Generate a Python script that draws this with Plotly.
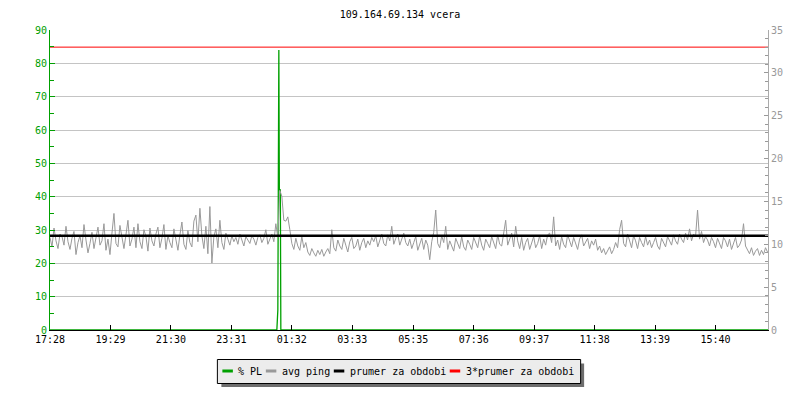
import plotly.graph_objects as go

# ---------------- data ----------------
title_text = "109.164.69.134 vcera"
start_label = "17:28"
x_tick_labels = ["17:28", "19:29", "21:30", "23:31", "01:32", "03:33", "05:35",
                 "07:36", "09:37", "11:38", "13:39", "15:40"]
range_minutes = 1437          # length of the period (minutes)
ping_step_min = 4             # sampling step of avg ping (minutes)

# avg ping [ms] (right axis)
avg_ping = [
    10.8, 9.7, 11.9, 10.4, 9.5, 11.2, 10.9, 9.9, 12.1, 10.3, 9.4, 10.7, 11.5, 8.8, 10.2, 11.0, 9.6, 12.3, 10.5, 9.0,
    10.1, 11.4, 9.5, 10.8, 12.0, 9.9, 10.4, 12.4, 9.3, 10.6, 8.8, 11.3, 13.6, 10.1, 9.7, 12.2, 10.8, 9.5, 11.1, 12.8,
    9.8, 10.6, 12.0, 9.6, 12.4, 10.3, 9.5, 11.7, 10.9, 9.2, 11.9, 10.4, 9.8, 11.2, 12.0, 9.6, 10.7, 12.3, 9.4, 11.0,
    10.2, 9.6, 11.8, 10.5, 9.3, 11.1, 12.6, 10.0, 9.4, 11.6, 10.2, 9.7, 12.7, 13.4, 10.3, 14.2, 11.0, 9.5, 12.1, 8.9,
    14.4, 7.8, 10.9, 11.8, 9.6, 12.8, 10.2, 9.4, 11.3, 10.6, 9.9, 11.0, 10.3, 10.8, 10.0, 11.2, 10.4, 9.8, 10.9, 10.5,
    10.1, 11.0, 10.6, 9.9, 10.8, 11.1, 10.2, 10.7, 11.7, 10.0, 10.5, 11.2, 10.3, 12.4, 10.8, 16.3, 15.6, 12.8, 12.7, 13.2,
    11.7, 10.1, 9.4, 10.7, 9.8, 9.3, 10.9, 9.6, 10.2, 9.1, 8.7, 9.5, 9.0, 8.6, 9.3, 8.8, 9.4, 8.6, 9.1, 9.5,
    8.9, 11.7, 9.6, 9.2, 10.5, 9.8, 9.4, 10.7, 9.9, 9.1, 10.3, 10.8, 9.5, 9.8, 10.6, 9.3, 10.2, 10.7, 9.6, 10.4,
    9.9, 10.8, 10.3, 11.0, 9.7, 10.5, 11.2, 10.1, 9.8, 11.1, 10.4, 12.1, 10.0, 10.7, 11.2, 9.9, 10.6, 11.3, 10.2, 9.8,
    10.6, 9.5, 10.2, 10.9, 9.3, 10.0, 10.7, 9.4, 10.5, 9.9, 8.2, 10.3, 11.4, 14.0, 10.1, 9.6, 11.0, 10.2, 12.1, 9.4,
    10.4, 9.8, 9.2, 10.7, 10.1, 9.5, 10.9, 9.7, 9.3, 10.5, 10.0, 9.4, 10.8, 10.2, 9.6, 11.0, 9.9, 9.3, 10.6, 10.1,
    9.6, 10.9, 10.3, 9.5, 11.1, 10.0, 9.8, 11.2, 12.8, 9.9, 10.6, 11.3, 9.7, 12.1, 10.4, 9.5, 10.8, 9.3, 10.2, 10.7,
    9.4, 10.3, 10.9, 9.6, 10.1, 11.0, 9.5, 10.6, 9.9, 11.1, 11.3, 10.2, 13.2, 9.8, 10.5, 9.4, 10.9, 10.0, 9.6, 11.1,
    10.3, 9.7, 10.8, 10.1, 9.4, 10.6, 11.1, 9.8, 10.2, 10.7, 9.5, 10.4, 9.9, 10.6, 9.3, 9.8, 9.0, 9.5, 8.8, 9.2,
    9.7, 8.9, 9.4, 10.2, 9.6, 11.7, 12.8, 10.1, 9.7, 11.2, 10.3, 9.6, 11.0, 10.4, 9.5, 10.8, 10.2, 9.7, 10.9, 9.9,
    10.5, 9.6, 10.2, 10.8, 9.8, 9.4, 10.7, 10.1, 9.7, 10.9, 10.3, 9.9, 11.1, 10.4, 10.0, 11.2, 10.6, 10.2, 11.3, 10.5,
    11.8, 10.4, 11.2, 10.9, 14.0, 10.6, 11.5, 10.2, 10.9, 10.5, 9.8, 10.8, 10.3, 9.6, 10.7, 10.1, 9.5, 10.8, 10.4, 9.7,
    10.6, 9.4, 10.2, 10.8, 9.6, 9.9, 10.5, 12.4, 9.8, 9.3, 8.9, 9.6, 8.7, 9.2, 9.5, 8.7, 9.3, 8.8, 9.6, 9.1,
]

# % packet loss (left axis): minutes from start, value
pl_minutes = [0, 454, 456, 458, 459, 461, 462, 1437]
pl_values = [0, 0, 6, 84, 42, 42, 0, 0]

prumer = 11.0            # period average ping [ms]
prumer3 = 3 * prumer     # 3*average

series_names = ["% PL", "avg ping", "prumer za obdobi", "3*prumer za obdobi"]
series_colors = ["#00A000", "#999999", "#000000", "#FF0000"]

# ---------------- helpers ----------------
def minutes_from_start(label):
    h, m = map(int, label.split(":"))
    sh, sm = map(int, start_label.split(":"))
    return ((h * 60 + m) - (sh * 60 + sm)) % 1440

tick_vals = [minutes_from_start(t) for t in x_tick_labels]
ping_minutes = [i * ping_step_min for i in range(len(avg_ping))]

W, H = 800, 400
L, R, T, B = 50, 768.5, 30, 330  # plot area in pixels

def px(x):
    return (x - L) / (R - L)

def py(y):
    return (B - y) / (B - T)

FONT = "DejaVu Sans Mono"

fig = go.Figure()
fig.add_trace(go.Scatter(x=ping_minutes, y=avg_ping, mode="lines", yaxis="y2",
                         line=dict(color=series_colors[1], width=1), name=series_names[1]))
fig.add_trace(go.Scatter(x=pl_minutes, y=pl_values, mode="lines", yaxis="y",
                         line=dict(color=series_colors[0], width=1.3), name=series_names[0]))
fig.add_trace(go.Scatter(x=[0, range_minutes], y=[prumer, prumer], mode="lines", yaxis="y2",
                         line=dict(color=series_colors[2], width=2.5), name=series_names[2]))
fig.add_trace(go.Scatter(x=[0, range_minutes], y=[prumer3, prumer3], mode="lines", yaxis="y2",
                         line=dict(color=series_colors[3], width=1), name=series_names[3]))

# ---- custom legend (box, shadow, samples, labels) ----
shapes = []
annotations = []
box = (217.5, 359.5, 581, 383.5)
shapes.append(dict(type="rect", xref="paper", yref="paper",
                   x0=px(box[0] + 4), x1=px(box[2] + 3.5), y0=py(box[3] + 3.5), y1=py(box[1] + 4),
                   fillcolor="#6e6e6e", line=dict(width=0), layer="above"))
shapes.append(dict(type="rect", xref="paper", yref="paper",
                   x0=px(box[0]), x1=px(box[2]), y0=py(box[3]), y1=py(box[1]),
                   fillcolor="#ececec", line=dict(color="#000000", width=1), layer="above"))
sample_x = [222.5, 266, 334, 450]
text_x = [236.5, 280.5, 348, 464]
ly = 371
for sx, tx, name, col in zip(sample_x, text_x, series_names, series_colors):
    shapes.append(dict(type="line", xref="paper", yref="paper",
                       x0=px(sx), x1=px(sx + 10.5), y0=py(ly), y1=py(ly),
                       line=dict(color=col, width=3), layer="above"))
    annotations.append(dict(text=name, xref="paper", yref="paper", x=px(tx), y=py(ly),
                            xanchor="left", yanchor="middle", showarrow=False,
                            font=dict(family=FONT, size=10, color="#000000")))

fig.update_layout(
    width=W, height=H,
    margin=dict(l=L, r=W - R, t=T, b=H - B, pad=0),
    paper_bgcolor="white", plot_bgcolor="white",
    showlegend=False,
    title=dict(text=title_text, x=0.5, xanchor="center", y=1 - 14 / H, yanchor="middle",
               font=dict(family=FONT, size=10, color="#000000")),
    font=dict(family=FONT, size=10),
    xaxis=dict(range=[0, range_minutes], tickmode="array", tickvals=tick_vals, ticktext=x_tick_labels,
               showgrid=False, zeroline=False, showline=True, linecolor="#000000", linewidth=1,
               ticks="inside", ticklen=5, tickcolor="#000000",
               tickfont=dict(family=FONT, size=10, color="#000000")),
    yaxis=dict(range=[0, 90], dtick=10, showgrid=True, gridcolor="#C4C4C4", gridwidth=1,
               zeroline=False, showline=True, linecolor="#00A000", linewidth=1,
               ticks="inside", ticklen=5, tickcolor="#00A000",
               minor=dict(dtick=5, ticks="inside", ticklen=4, tickcolor="#00A000", showgrid=False),
               tickfont=dict(family=FONT, size=10, color="#00A000")),
    yaxis2=dict(range=[0, 35], dtick=5, overlaying="y", side="right", showgrid=False,
                zeroline=False, showline=True, linecolor="#AAAAAA", linewidth=1,
                ticks="inside", ticklen=4, tickcolor="#999999",
                minor=dict(dtick=1, ticks="inside", ticklen=3, tickcolor="#999999", showgrid=False),
                tickfont=dict(family=FONT, size=10, color="#999999")),
    shapes=shapes,
    annotations=annotations,
)

fig.write_html("out.html", post_script="document.body.style.margin='0';",
               config={"displayModeBar": False})
